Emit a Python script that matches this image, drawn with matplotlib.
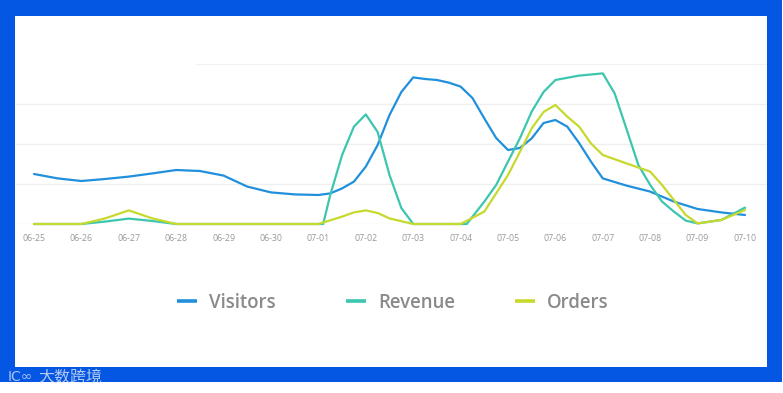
import matplotlib
matplotlib.use("Agg")
import matplotlib.pyplot as plt
from matplotlib.patches import Rectangle
from matplotlib.lines import Line2D

W, H = 783, 393

# day labels
dates = ["06-25", "06-26", "06-27", "06-28", "06-29", "06-30", "07-01", "07-02",
         "07-03", "07-04", "07-05", "07-06", "07-07", "07-08", "07-09", "07-10"]

# positions (in days from 06-25) and values
visitors_t = [0, 0.5, 1, 1.5, 2, 2.5, 3, 3.5, 4, 4.5, 5, 5.5, 6, 6.25, 6.5, 6.75,
              7, 7.25, 7.5, 7.75, 8, 8.25, 8.5, 8.75, 9, 9.25, 9.5, 9.75, 10, 10.25,
              10.5, 10.75, 11, 11.25, 11.5, 11.75, 12, 12.5, 13, 13.5, 14, 14.5, 15]
visitors = [25.0, 22.8, 21.5, 22.5, 23.7, 25.3, 27.0, 26.5, 24.2, 18.7, 15.8, 14.8,
            14.5, 15.3, 17.8, 21.2, 28.7, 39.5, 54.5, 66.0, 73.3, 72.5, 72.0, 70.7,
            68.7, 63.0, 52.8, 43.0, 37.0, 38.0, 42.8, 50.5, 52.0, 48.7, 40.5, 31.2,
            22.8, 19.2, 16.2, 11.2, 7.5, 5.8, 4.5]

revenue_t = [0, 1, 1.5, 2, 2.5, 3, 6, 6.1, 6.25, 6.5, 6.75, 7, 7.25, 7.5, 7.75, 8,
             9, 9.13, 9.5, 9.75, 10, 10.25, 10.5, 10.75, 11, 11.5, 12, 12.25, 12.5,
             12.75, 13, 13.25, 13.5, 13.75, 14, 14.5, 15]
revenue = [0, 0, 1.2, 2.7, 1.5, 0, 0, 0, 14.5, 34.5, 48.7, 54.8, 46.0, 24.5, 8.0, 0,
           0, 0, 11.2, 19.5, 31.2, 42.8, 56.2, 66.0, 72.0, 74.2, 75.3, 65.3, 47.5,
           29.5, 19.5, 11.2, 6.2, 1.7, 0.3, 2.0, 8.2]

orders_t = [0, 1, 1.5, 1.75, 2, 2.25, 2.5, 3, 6, 6.5, 6.75, 7, 7.25, 7.5, 8, 9,
            9.5, 10, 10.25, 10.5, 10.75, 11, 11.25, 11.5, 11.75, 12, 12.5, 13,
            13.25, 13.5, 13.75, 14, 14.5, 15]
orders = [0, 0, 2.8, 4.8, 6.8, 4.8, 2.8, 0, 0, 3.7, 5.8, 6.8, 5.5, 2.8, 0, 0,
          6.2, 24.5, 36.0, 47.8, 56.0, 59.5, 53.7, 48.7, 40.3, 34.5, 30.3, 26.2,
          19.5, 12.0, 4.5, 0.3, 2.0, 7.0]

series_names = ["Visitors", "Revenue", "Orders"]
colors = ["#2190DC", "#3CC6AE", "#C6D92C"]

fig = plt.figure(figsize=(W / 100, H / 100), dpi=100)
fig.patch.set_facecolor("white")


def fx(px):
    return px / W


def fy(py):
    return 1 - py / H


# blue frame
fig.add_artist(Rectangle((fx(0), fy(382)), fx(782), 382 / H, transform=fig.transFigure,
                         facecolor="#0357E2", edgecolor="none", zorder=0))
fig.add_artist(Rectangle((fx(15), fy(367)), fx(767 - 15), (367 - 16) / H,
                         transform=fig.transFigure, facecolor="white",
                         edgecolor="none", zorder=0))

ax_left, ax_right = 16, 767
ax_top, ax_bot = 64, 224
ax = fig.add_axes([fx(ax_left), fy(ax_bot), fx(ax_right - ax_left), (ax_bot - ax_top) / H])
ax.set_facecolor("none")

x0_px, x15_px = 34, 745
per_day = (x15_px - x0_px) / 15
ax.set_xlim(-(x0_px - ax_left) / per_day, 15 + (ax_right - x15_px) / per_day)
ax.set_ylim(0, 80)

for g in [0, 20, 40, 60]:
    ax.axhline(g, color="#efefef", lw=0.9, zorder=1)
ax.axhline(80, xmin=(196 - ax_left) / (ax_right - ax_left), color="#f2f2f2", lw=0.9, zorder=1)

handles = []
for name, tt, vals, c in zip(series_names, [visitors_t, revenue_t, orders_t],
                             [visitors, revenue, orders], colors):
    ln, = ax.plot(tt, vals, color=c, lw=1.6, solid_joinstyle="round",
                  solid_capstyle="round", clip_on=False, zorder=3, label=name)
    handles.append(ln)

ax.set_xticks(range(len(dates)))
ax.set_xticklabels(dates, fontsize=6.3, color="#999999", family="Open Sans")
ax.tick_params(axis="x", length=0, pad=7)
ax.set_yticks([])
for s in ax.spines.values():
    s.set_visible(False)

# legend (manual placement)
leg_y = 300.5
for hx, ln in zip([177, 346, 515], handles):
    fig.add_artist(Line2D([fx(hx), fx(hx + 20)], [fy(leg_y), fy(leg_y)],
                          transform=fig.transFigure, color=ln.get_color(), lw=2.6,
                          solid_capstyle="butt"))
    fig.text(fx(hx + 32), fy(leg_y), ln.get_label(), fontsize=13.4, color="#8a8a8a",
             family="Open Sans", fontweight="semibold", va="center_baseline", ha="left")

# watermark
fig.text(fx(8), fy(377), "ⅠC∞", fontsize=10, color="#c8d6f5", alpha=0.85,
         family="DejaVu Sans", va="center")
fig.text(fx(38), fy(377), "大数跨境", fontsize=11.5, color="#d5def5", alpha=0.85,
         family=["Noto Sans CJK SC", "DejaVu Sans"], va="center")

fig.savefig("out.png", dpi=100, facecolor="white")
